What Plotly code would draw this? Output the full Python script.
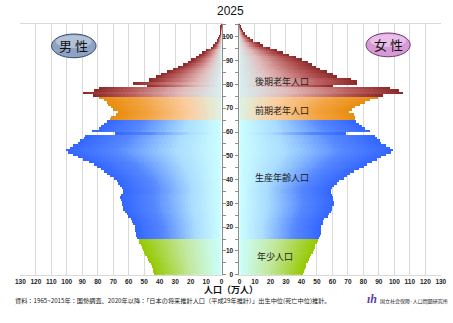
import plotly.graph_objects as go

# ---------------- data ----------------
ages = list(range(0, 106))
male = [43.3, 43.8, 44.3, 45.0, 45.5, 46.4, 47.3, 48.3, 49.5, 50.0,
        50.6, 51.2, 51.7, 53.0, 53.4, 54.2, 54.8, 55.2, 55.5, 55.9,
        55.9, 57.0, 57.5, 58.5, 60.0, 61.1, 62.5, 63.2, 63.2, 64.3,
        64.3, 64.6, 65.3, 64.8, 63.2, 63.2, 64.3, 65.3, 66.4, 67.4,
        69.5, 71.6, 73.7, 75.8, 77.9, 80.0, 82.1, 85.7, 89.5, 92.6,
        95.8, 98.9, 100.4, 97.9, 95.8, 92.6, 91.5, 88.5, 87.8, 68.5,
        83.6, 79.0, 78.0, 76.0, 74.0, 72.0, 71.0, 68.0, 67.0, 70.0,
        71.0, 73.0, 74.0, 76.0, 79.0, 83.0, 89.5, 82.0, 79.0, 48.0,
        57.0, 47.0, 46.5, 42.0, 39.0, 35.0, 31.0, 27.7, 24.6, 21.0,
        19.0, 16.0, 14.0, 12.0, 9.7, 6.3, 5.0, 3.5, 2.6, 2.0,
        1.2, 0.8, 0.5, 0.3, 0.2, 0.1]
female = [41.4, 41.8, 42.3, 43.0, 43.5, 44.5, 45.2, 45.6, 46.8, 47.7,
          48.3, 48.8, 49.3, 50.5, 50.9, 51.9, 52.5, 52.9, 52.9, 53.0,
          53.2, 54.0, 54.5, 55.2, 57.2, 58.2, 59.5, 60.3, 60.3, 61.4,
          61.4, 61.0, 60.5, 60.3, 59.2, 59.2, 60.3, 61.4, 63.5, 64.5,
          67.7, 69.8, 71.8, 74.2, 77.3, 80.5, 82.5, 85.7, 88.9, 92.0,
          95.2, 98.3, 99.4, 97.3, 95.2, 92.0, 91.0, 88.9, 87.8, 68.9,
          84.7, 81.5, 79.4, 77.3, 75.5, 75.2, 75.2, 74.2, 71.0, 73.1,
          75.2, 78.4, 81.5, 84.7, 89.9, 93.0, 105.7, 103.6, 97.3, 60.5,
          76.0, 76.0, 72.0, 63.0, 61.0, 57.0, 52.0, 50.0, 47.0, 44.5,
          40.6, 37.0, 32.0, 28.0, 24.0, 19.5, 15.0, 13.0, 9.0, 7.0,
          5.0, 3.5, 2.5, 1.5, 1.0, 0.5]
x_ticks = list(range(0, 131, 10))
age_ticks = list(range(0, 101, 10))
group_names = ["年少人口", "生産年齢人口", "前期老年人口", "後期老年人口"]
group_starts = [0, 15, 65, 75]
title_text = "2025"
unit_text = "人口（万人）"
source_text = ("資料：1965~2015年：国勢調査、2020年以降：「日本の将来推計人口（平成29年推計）」"
               "出生中位(死亡中位)推計。")
org_text = "国立社会保障·人口問題研究所"

# ---------------- styles ----------------
SCALES = [
    [(0, (204, 255, 255)), (0.45, (195, 232, 160)), (1, (150, 200, 0))],          # green
    [(0, (204, 255, 255)), (0.3, (170, 220, 255)), (0.68, (85, 135, 255)), (1, (51, 102, 255))],  # blue
    [(0, (222, 242, 228)), (0.3, (250, 205, 160)), (0.7, (242, 162, 62)), (1, (232, 140, 15))],    # orange
    [(0, (215, 240, 240)), (0.3, (226, 188, 188)), (0.7, (185, 92, 92)), (1, (140, 40, 40))],      # red
]


def group_of(a):
    g = 0
    for i, s in enumerate(group_starts):
        if a >= s:
            g = i
    return g


def interp(scale, t):
    for (p0, c0), (p1, c1) in zip(scale[:-1], scale[1:]):
        if p0 <= t <= p1:
            f = (t - p0) / (p1 - p0)
            c = [round(c0[k] + (c1[k] - c0[k]) * f) for k in range(3)]
            return "rgb(%d,%d,%d)" % tuple(c)
    return "rgb(%d,%d,%d)" % scale[-1][1]


K = 36
fig = go.Figure()
for vals, xa, ya in [(male, "x", "y"), (female, "x2", "y2")]:
    for i in range(K):
        t = (i + 0.5) / K
        cols = [interp(SCALES[group_of(a)], t) for a in ages]
        ext = 1.6 if i < K - 1 else 1.0
        fig.add_trace(go.Bar(
            orientation="h",
            y=[a + 0.5 for a in ages],
            x=[v / K * ext for v in vals],
            base=[v * i / K for v in vals],
            width=1.0,
            marker=dict(color=cols, line=dict(width=0)),
            xaxis=xa, yaxis=ya, hoverinfo="skip", showlegend=False,
        ))

tickfont = dict(family="Liberation Sans", size=6.5, color="#222", weight="bold")
grid = "#D9D9D9"
yr = [0, 105.5]

fig.update_layout(
    width=453, height=323,
    margin=dict(l=0, r=0, t=0, b=0),
    paper_bgcolor="white", plot_bgcolor="white",
    barmode="overlay", bargap=0,
    xaxis=dict(domain=[0.0347, 0.4901], range=[130, 0], tickvals=x_ticks,
               showgrid=True, gridcolor=grid, gridwidth=1, zeroline=False,
               showline=True, linecolor=grid, mirror=True, ticks="",
               tickfont=tickfont, anchor="y"),
    yaxis=dict(domain=[0.1415, 0.9257], range=yr, side="right", anchor="x",
               tickvals=list(range(0, 106, 5)), ticks="outside", ticklen=3,
               tickcolor="#8c8c8c", showticklabels=False, showgrid=False,
               zeroline=False, showline=True, linecolor="#8c8c8c"),
    xaxis2=dict(domain=[0.5305, 0.986], range=[0, 130], tickvals=x_ticks,
                showgrid=True, gridcolor=grid, gridwidth=1, zeroline=False,
                showline=True, linecolor=grid, mirror=True, ticks="",
                tickfont=tickfont, anchor="y2"),
    yaxis2=dict(domain=[0.1415, 0.9257], range=yr, side="left", anchor="x2",
                tickvals=age_ticks, ticks="outside", ticklen=3, tickcolor="#8c8c8c",
                minor=dict(tickvals=list(range(5, 106, 10)), ticks="outside", ticklen=3,
                           tickcolor="#8c8c8c"),
                tickfont=tickfont, showgrid=False, zeroline=False,
                showline=True, linecolor="#8c8c8c", ticklabelstandoff=1),
)

# badges
fig.add_shape(type="circle", xref="paper", yref="paper", x0=0.1053, x1=0.206,
              y0=0.8195, y1=0.8938, fillcolor="#8EA2C2",
              line=dict(color="#3A4A68", width=1))
fig.add_shape(type="circle", xref="paper", yref="paper", x0=0.115, x1=0.196,
              y0=0.850, y1=0.890, fillcolor="#C3CFE3", line=dict(width=0), opacity=0.7)
fig.add_shape(type="circle", xref="paper", yref="paper", x0=0.8168, x1=0.9168,
              y0=0.8226, y1=0.8969, fillcolor="#D79AD7",
              line=dict(color="#6A3A6A", width=1))
fig.add_shape(type="circle", xref="paper", yref="paper", x0=0.826, x1=0.907,
              y0=0.853, y1=0.893, fillcolor="#F2CCF2", line=dict(width=0), opacity=0.7)

jp = "Noto Sans CJK JP"


def ann(text, px, py, size, family=jp, color="#111", xanchor="center", xref="paper",
        yref="paper", yanchor="middle"):
    fig.add_annotation(x=px, y=py, xref=xref, yref=yref, text=text, showarrow=False,
                       xanchor=xanchor, yanchor=yanchor,
                       font=dict(family=family, size=size, color=color))


ann("男 性", 70.5 / 453, 1 - 46.3 / 323, 13)
ann("女 性", 392.6 / 453, 1 - 45.3 / 323, 13)

# group labels (female panel)
label_pos = [(9.9, 7.6), (9.0, 40.9), (8.6, 68.9), (8.6, 81.4)]
for name, (lx, ly) in zip(group_names, label_pos):
    ann(name, lx, ly, 9, color="#1a1a1a", xanchor="left", xref="x2", yref="y2")

ann(title_text, 231 / 453, 1 - 11 / 323, 12, family="Liberation Sans")
ann("<b>" + unit_text + "</b>", 231.5 / 453, 1 - 292 / 323, 9)
ann(source_text, 8 / 453, 1 - 303.5 / 323, 6.2, color="#222", xanchor="left")
ann(org_text, 382 / 453, 1 - 303.5 / 323, 5, color="#222", xanchor="left")
ann("<b><i>ıh</i></b>", 376 / 453, 1 - 302 / 323, 12, family="Liberation Serif",
    color="#5B3FA8")

fig.write_html("out.html")
